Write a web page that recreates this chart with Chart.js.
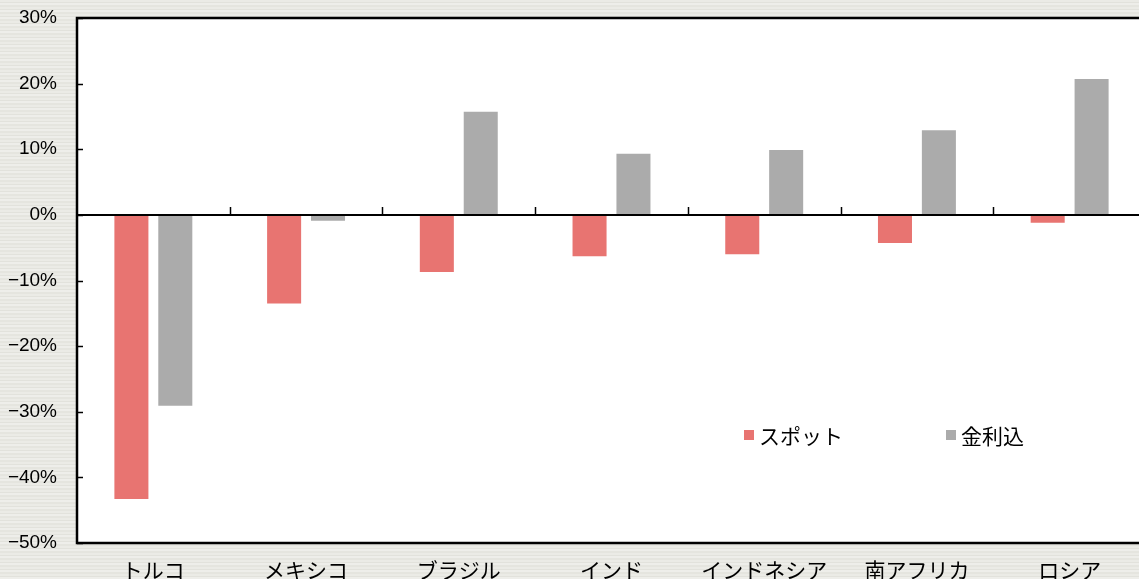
<!DOCTYPE html>
<html lang="ja">
<head>
  <meta charset="UTF-8" />
  <title>スポット vs 金利込</title>
  <script src="https://cdn.jsdelivr.net/npm/chart.js"></script>
  <style>
    html, body {
      margin: 0;
      padding: 0;
      overflow: hidden;
      width: 1139px;
      height: 579px;
      background-color: #e8e8e2;
      background-image: repeating-linear-gradient(to bottom,
        #ebebe6 0px, #ebebe6 2px, #e2e2dc 2px, #e2e2dc 3px,
        #eeeeea 3px, #eeeeea 5px, #e5e5df 5px, #e5e5df 7px);
    }
    .wrap {
      position: absolute;
      left: 0;
      top: 0;
      width: 1146px;
      height: 579px;
    }
  </style>
</head>
<body>
  <div class="wrap">
    <canvas id="chart"></canvas>
  </div>

  <script>
    const paises = ['トルコ', 'メキシコ', 'ブラジル', 'インド', 'インドネシア', '南アフリカ', 'ロシア'];
    const spot = [-43.3, -13.5, -8.7, -6.3, -6.0, -4.3, -1.2];
    const comJuros = [-29.1, -0.9, 15.7, 9.3, 9.9, 12.9, 20.7];
    const yTicks = [30, 20, 10, 0, -10, -20, -30, -40, -50];

    const corSpot = '#e87471';
    const corJuros = '#ababab';
    const fonteJp = '"Noto Sans CJK JP", "Noto Sans", sans-serif';

    // moldura, linha do zero, marcas e legenda
    const moldura = {
      id: 'moldura',
      beforeDraw(chart) {
        const { ctx, chartArea: a } = chart;
        ctx.save();
        ctx.fillStyle = '#ffffff';
        ctx.fillRect(a.left, a.top, a.right - a.left, a.bottom - a.top);
        ctx.restore();
      },
      afterDatasetsDraw(chart) {
        const { ctx, chartArea: a, scales } = chart;
        const x = scales.x, y = scales.y;
        const y0 = Math.round(y.getPixelForValue(0));
        ctx.save();
        ctx.strokeStyle = '#000';

        // linha do zero
        ctx.lineWidth = 2;
        ctx.beginPath();
        ctx.moveTo(a.left, y0);
        ctx.lineTo(a.right, y0);
        ctx.stroke();

        // marcas entre categorias, para cima
        ctx.lineWidth = 1.5;
        for (let i = 1; i < paises.length; i++) {
          const px = Math.round((x.getPixelForValue(i - 1) + x.getPixelForValue(i)) / 2) + 0.5;
          ctx.beginPath();
          ctx.moveTo(px, y0);
          ctx.lineTo(px, y0 - 8);
          ctx.stroke();
        }

        // marcas do eixo y, para dentro
        yTicks.forEach(v => {
          const py = Math.round(y.getPixelForValue(v)) + 0.5;
          ctx.beginPath();
          ctx.moveTo(a.left, py);
          ctx.lineTo(a.left + 6, py);
          ctx.stroke();
        });

        // moldura
        ctx.lineWidth = 2.5;
        ctx.strokeRect(a.left, a.top, a.right - a.left + 5, a.bottom - a.top);
        ctx.restore();
      },
      afterDraw(chart) {
        const { ctx, chartArea: a } = chart;
        const itens = [
          { texto: 'スポット', cor: corSpot, dx: 667 },
          { texto: '金利込', cor: corJuros, dx: 869 }
        ];
        ctx.save();
        ctx.font = '21px ' + fonteJp;
        ctx.textBaseline = 'middle';
        itens.forEach(it => {
          const lx = a.left + it.dx;
          const ly = a.top + 412;
          ctx.fillStyle = it.cor;
          ctx.fillRect(lx, ly, 10, 10);
          ctx.fillStyle = '#000';
          ctx.fillText(it.texto, lx + 15, ly + 6);
        });
        ctx.restore();
      }
    };

    new Chart(document.getElementById('chart'), {
      type: 'bar',
      data: {
        labels: paises,
        datasets: [
          {
            label: 'スポット',
            data: spot,
            backgroundColor: corSpot,
            categoryPercentage: 0.575,
            barPercentage: 0.775
          },
          {
            label: '金利込',
            data: comJuros,
            backgroundColor: corJuros,
            categoryPercentage: 0.575,
            barPercentage: 0.775
          }
        ]
      },
      options: {
        responsive: true,
        maintainAspectRatio: false,
        animation: false,
        layout: { padding: { top: 18, right: 0, left: 0, bottom: 0 } },
        plugins: {
          legend: { display: false },
          tooltip: { enabled: false }
        },
        scales: {
          x: {
            grid: { display: false, drawTicks: false },
            border: { display: false },
            ticks: {
              color: '#000',
              padding: 14,
              font: { family: fonteJp, size: 21 }
            },
            afterFit(scale) {
              scale.height = 36;
              scale.paddingLeft = 0;
              scale.paddingRight = 0;
            }
          },
          y: {
            min: -50,
            max: 30,
            grid: { display: false, drawTicks: false },
            border: { display: false },
            afterBuildTicks(scale) {
              scale.ticks = yTicks.map(v => ({ value: v }));
            },
            ticks: {
              color: '#000',
              padding: 20,
              font: { family: '"Liberation Sans", Arial, sans-serif', size: 19 },
              callback: v => (v < 0 ? '\u2212' + Math.abs(v) : v) + '%'
            },
            afterFit(scale) {
              scale.width = 77;
              scale.paddingTop = 0;
              scale.paddingBottom = 0;
            }
          }
        }
      },
      plugins: [moldura]
    });
  </script>
</body>
</html>
